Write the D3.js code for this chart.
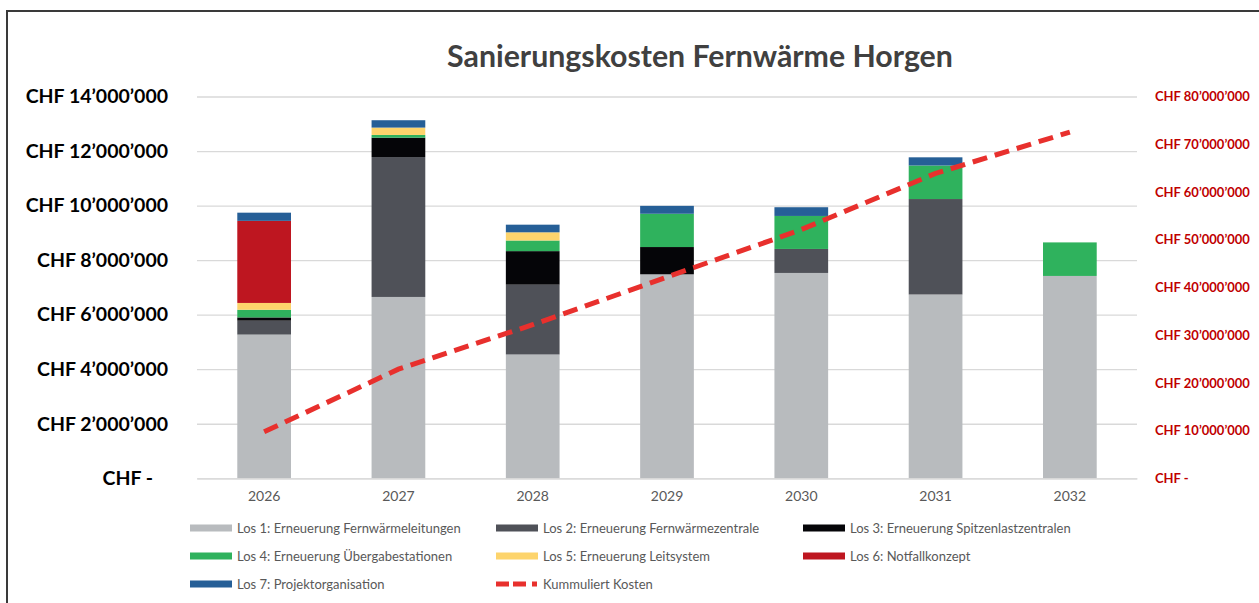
<!DOCTYPE html>
<html lang="de">
<head>
    <meta charset="UTF-8">
    <title>Sanierungskosten Fernwärme Horgen</title>
    <script src="https://d3js.org/d3.v7.min.js"></script>
    <style>
        body { margin: 0; background: #fff; font-family: Lato, "Open Sans", sans-serif; }
        svg { display: block; }
        .grid line { stroke: #d9d9d9; stroke-width: 1.3; }
        .grid .domain { display: none; }
    </style>
</head>
<body>
    <div id="chart"></div>
    <script>
        // values in CHF
        const years = ["2026", "2027", "2028", "2029", "2030", "2031", "2032"];
        const los1 = [5270000, 6650000, 4540000, 7480000, 7530000, 6740000, 7420000];
        const los2 = [510000, 5130000, 2560000, 0, 880000, 3500000, 0];
        const los3 = [120000, 710000, 1230000, 1000000, 0, 0, 0];
        const los4 = [280000, 100000, 390000, 1220000, 1210000, 1230000, 1230000];
        const los5 = [250000, 270000, 300000, 0, 0, 0, 0];
        const los6 = [3010000, 0, 0, 0, 0, 0, 0];
        const los7 = [300000, 270000, 280000, 290000, 320000, 300000, 0];
        const kumuliert = [9740000, 22870000, 32180000, 42170000, 52110000, 63880000, 72530000];

        const leftTicks = [0, 2000000, 4000000, 6000000, 8000000, 10000000, 12000000, 14000000];
        const rightTicks = [0, 10000000, 20000000, 30000000, 40000000, 50000000, 60000000, 70000000, 80000000];

        const seriesNames = [
            "Los 1: Erneuerung Fernwärmeleitungen",
            "Los 2: Erneuerung Fernwärmezentrale",
            "Los 3: Erneuerung Spitzenlastzentralen",
            "Los 4: Erneuerung Übergabestationen",
            "Los 5: Erneuerung Leitsystem",
            "Los 6: Notfallkonzept",
            "Los 7: Projektorganisation"
        ];
        const lineName = "Kummuliert Kosten";
        const colors = ["#b8bbbe", "#4f5158", "#050508", "#2fb25d", "#fdd46c", "#be1620", "#265f97"];
        const lineColor = "#e8302d";

        const W = 1259, H = 603;
        const plot = { left: 197, right: 1137, top: 96.5, bottom: 478.3 };

        const svg = d3.select("#chart").append("svg")
            .attr("width", W)
            .attr("height", H);

        // outer frame (only top and left edges are visible)
        svg.append("path")
            .attr("d", `M7,${H} L7,11 L${W},11`)
            .attr("fill", "none")
            .attr("stroke", "#3a3a3a")
            .attr("stroke-width", 2);

        const allSeries = [los1, los2, los3, los4, los5, los6, los7];
        const keys = d3.range(allSeries.length);
        const table = years.map((yr, i) => {
            const row = { year: yr };
            keys.forEach(k => row[k] = allSeries[k][i]);
            return row;
        });

        const x = d3.scaleBand()
            .domain(years)
            .range([plot.left, plot.right])
            .paddingInner(0.6)
            .paddingOuter(0.3);

        const y = d3.scaleLinear()
            .domain([0, 14000000])
            .range([plot.bottom, plot.top]);

        const y2 = d3.scaleLinear()
            .domain([0, 80000000])
            .range([plot.bottom, plot.top]);

        const chf = v => v === 0 ? "CHF -" : "CHF " + d3.format(",")(v).replace(/,/g, "\u2019");

        // gridlines
        svg.append("g")
            .attr("class", "grid")
            .attr("transform", `translate(${plot.left},0)`)
            .call(d3.axisLeft(y).tickValues(leftTicks).tickSize(-(plot.right - plot.left)).tickFormat(""));

        // left axis labels
        const leftAxis = svg.append("g")
            .attr("transform", `translate(${plot.left},0)`)
            .call(d3.axisLeft(y).tickValues(leftTicks).tickSize(0).tickPadding(29).tickFormat(chf));
        leftAxis.select(".domain").remove();
        leftAxis.selectAll("text")
            .attr("fill", "#000")
            .attr("font-family", "Lato, sans-serif")
            .attr("font-weight", "bold")
            .attr("font-size", "19.5px")
            .attr("dx", d => d === 0 ? -15 : 0);

        // right axis labels
        const rightAxis = svg.append("g")
            .attr("transform", `translate(${plot.right},0)`)
            .call(d3.axisRight(y2).tickValues(rightTicks).tickSize(0).tickPadding(18).tickFormat(chf));
        rightAxis.select(".domain").remove();
        rightAxis.selectAll("text")
            .attr("fill", "#c00000")
            .attr("font-family", "Lato, sans-serif")
            .attr("font-weight", "bold")
            .attr("font-size", "13px");

        // stacked bars
        const stacked = d3.stack().keys(keys)(table);
        svg.append("g")
            .selectAll("g")
            .data(stacked)
            .join("g")
            .attr("fill", (d, i) => colors[i])
            .selectAll("rect")
            .data(d => d.filter(p => p[1] > p[0]))
            .join("rect")
            .attr("x", d => x(d.data.year))
            .attr("width", x.bandwidth())
            .attr("y", d => y(d[1]))
            .attr("height", d => y(d[0]) - y(d[1]));

        // x axis
        const xAxis = svg.append("g")
            .attr("transform", `translate(0,${plot.bottom})`)
            .call(d3.axisBottom(x).tickSize(0).tickPadding(13));
        xAxis.select(".domain").attr("stroke", "#d9d9d9").attr("stroke-width", 1.3);
        xAxis.selectAll("text")
            .attr("fill", "#595959")
            .attr("font-family", "Lato, sans-serif")
            .attr("font-size", "14px");

        // cumulative line on right axis
        const line = d3.line()
            .x((d, i) => x(years[i]) + x.bandwidth() / 2)
            .y(d => y2(d));
        svg.append("path")
            .datum(kumuliert)
            .attr("d", line)
            .attr("fill", "none")
            .attr("stroke", lineColor)
            .attr("stroke-width", 5)
            .attr("stroke-dasharray", "15,8");

        // title
        svg.append("text")
            .attr("x", 700)
            .attr("y", 67)
            .attr("text-anchor", "middle")
            .attr("fill", "#404040")
            .attr("font-family", "Lato, sans-serif")
            .attr("font-weight", "bold")
            .attr("font-size", "30.3px")
            .text("Sanierungskosten Fernwärme Horgen");

        // legend
        const colX = [190, 496, 803];
        const rowY = [528, 556, 584];
        const legendItems = seriesNames.map((n, i) => ({ name: n, color: colors[i], dashed: false }))
            .concat([{ name: lineName, color: lineColor, dashed: true }]);

        const legend = svg.append("g");
        legendItems.forEach((item, i) => {
            const lx = colX[i % 3], ly = rowY[Math.floor(i / 3)];
            if (item.dashed) {
                legend.append("line")
                    .attr("x1", lx).attr("x2", lx + 43)
                    .attr("y1", ly).attr("y2", ly)
                    .attr("stroke", item.color)
                    .attr("stroke-width", 5)
                    .attr("stroke-dasharray", "13,4,13,6,5,50");
            } else {
                legend.append("rect")
                    .attr("x", lx).attr("y", ly - 3.5)
                    .attr("width", 42).attr("height", 7)
                    .attr("fill", item.color);
            }
            legend.append("text")
                .attr("x", lx + 47)
                .attr("y", ly)
                .attr("dy", "0.35em")
                .attr("fill", "#595959")
                .attr("font-family", "Lato, sans-serif")
                .attr("font-size", "13px")
                .text(item.name);
        });
    </script>
</body>
</html>
